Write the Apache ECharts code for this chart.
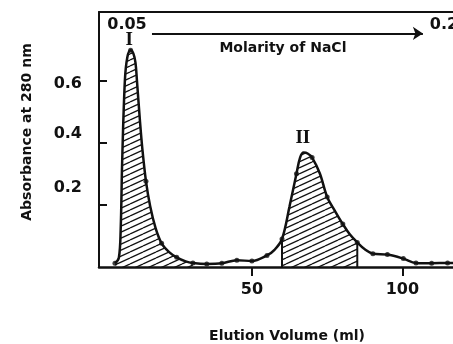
<!DOCTYPE html>
<html><head><meta charset="utf-8">
<script src="https://cdn.jsdelivr.net/npm/echarts@6/dist/echarts.min.js"></script>
<style>html,body{margin:0;padding:0;background:#fff}#c{width:453px;height:344px}</style>
</head><body><div id="c"></div>
<script>
// ---- data ----
const curveVolume = [4.5,5.8,6.4,6.9,7.8,8.6,9.7,10.6,11.3,11.8,12.8,13.6,14.8,16.2,18,20,22.5,25,28,30.4,35,40,45,50,55,57.5,60,62.5,64.8,66,67.2,68.5,70,72.6,75,77.6,80.2,82.5,85,87.5,90.2,95,100.3,104.5,109.7,115,117];
const curveAbsorbance = [0.012,0.03,0.12,0.34,0.60,0.674,0.697,0.687,0.658,0.60,0.47,0.38,0.276,0.195,0.125,0.076,0.048,0.031,0.018,0.013,0.01,0.012,0.022,0.019,0.037,0.055,0.09,0.195,0.30,0.352,0.368,0.365,0.352,0.30,0.225,0.18,0.138,0.105,0.079,0.057,0.043,0.04,0.027,0.013,0.012,0.013,0.013];
const dotVolume = [4.5,9.7,14.8,20,25,30.4,35,40,45,50,55,60,64.8,70,75,80.2,85,90.2,95,100.3,104.5,109.7,115];
const dotAbsorbance = [0.012,0.697,0.276,0.076,0.031,0.013,0.01,0.012,0.022,0.019,0.037,0.09,0.30,0.352,0.225,0.138,0.079,0.043,0.04,0.027,0.013,0.012,0.013];
const peakIRange = [4.5, 30.4];
const peakIIRange = [60, 85];
const xTickValues = [50, 100];
const yTickValues = [0.2, 0.4, 0.6];
const molarityStart = '0.05';
const molarityEnd = '0.2';
const molarityLabel = 'Molarity of NaCl';
const peakLabels = ['I', 'II'];
const xTitle = 'Elution Volume (ml)';
const yTitle = 'Absorbance at 280 nm';

// ---- layout / styling ----
const INK = '#111';
const FONT = '"DejaVu Sans", sans-serif';
const yLabelShift = {0.6: 3, 0.4: -9, 0.2: -17};

const curve = curveVolume.map((v, i) => [v, curveAbsorbance[i]]);
const dots = dotVolume.map((v, i) => [v, dotAbsorbance[i]]);
const inRange = r => curve.filter(p => p[0] >= r[0] && p[0] <= r[1]);
const valAt = x => curve.find(p => p[0] === x)[1];

function hatch() {
  const W = 13, H = 6, c = document.createElement('canvas');
  c.width = W; c.height = H;
  const g = c.getContext('2d');
  g.strokeStyle = INK; g.lineWidth = 1.3;
  for (const o of [-H, 0, H]) { g.beginPath(); g.moveTo(0, H + o); g.lineTo(W, o); g.stroke(); }
  return c;
}
const pattern = { image: hatch(), repeat: 'repeat' };

const rich = {};
yTickValues.forEach((v, i) => {
  const d = yLabelShift[v] || 0;
  rich['t' + i] = {
    fontFamily: FONT, fontWeight: 'bold', fontSize: 16, color: INK,
    padding: d > 0 ? [2 * d, 0, 0, 0] : [0, 0, -2 * d, 0]
  };
});

const chart = echarts.init(document.getElementById('c'), null, {renderer: 'canvas'});
const hatchSeries = r => ({
  type: 'line', data: inRange(r), smooth: 0.35, symbol: 'none', z: 1,
  lineStyle: {width: 0}, areaStyle: {color: pattern, opacity: 1}, silent: true
});
const edgeSeries = x => ({
  type: 'line', data: [[x, 0], [x, valAt(x)]], symbol: 'none', z: 2,
  lineStyle: {color: INK, width: 2}, silent: true
});

chart.setOption({
  animation: false,
  backgroundColor: '#fff',
  grid: {left: 99, right: 0, top: 12, bottom: 77},
  xAxis: [{
    type: 'value', min: -0.8, max: 116.8, position: 'bottom',
    axisLine: {show: true, onZero: false, lineStyle: {color: INK, width: 2.5}},
    axisTick: {show: true, customValues: xTickValues, length: 9, lineStyle: {color: INK, width: 2}},
    axisLabel: {customValues: xTickValues, margin: 15, fontFamily: FONT, fontWeight: 'bold', fontSize: 16, color: INK},
    splitLine: {show: false}
  }, {
    type: 'value', min: -0.8, max: 116.8, position: 'top',
    axisLine: {show: true, onZero: false, lineStyle: {color: INK, width: 2}},
    axisTick: {show: false}, axisLabel: {show: false}, splitLine: {show: false}
  }],
  yAxis: {
    type: 'value', min: 0, max: 0.82,
    axisLine: {show: true, onZero: false, lineStyle: {color: INK, width: 2}},
    axisTick: {show: true, inside: true, customValues: yTickValues, length: 8, lineStyle: {color: INK, width: 2}},
    axisLabel: {
      customValues: yTickValues, margin: 17,
      formatter: v => { const i = yTickValues.indexOf(+v.toFixed(2)); return '{t' + i + '|' + v.toFixed(1) + '}'; },
      rich: rich
    },
    splitLine: {show: false}
  },
  series: [
    hatchSeries(peakIRange),
    hatchSeries(peakIIRange),
    edgeSeries(peakIIRange[0]),
    edgeSeries(peakIIRange[1]),
    {
      type: 'line', data: curve, smooth: 0.35, symbol: 'none', z: 3,
      lineStyle: {color: INK, width: 2.5},
      markLine: {
        silent: true, symbol: ['none', 'arrow'], symbolSize: 10,
        label: {show: false}, lineStyle: {color: INK, width: 2, type: 'solid'},
        data: [[{coord: [16.8, 0.751]}, {coord: [106.8, 0.751]}]]
      }
    },
    {type: 'scatter', data: dots, symbolSize: 5, itemStyle: {color: INK}, z: 4}
  ]
});

const px = p => chart.convertToPixel({xAxisIndex: 0, yAxisIndex: 0}, p);
const txt = (pt, text, opts) => Object.assign({
  type: 'text', x: pt[0], y: pt[1], silent: true,
  style: Object.assign({text: text, fill: INK, font: 'bold 16px ' + FONT, align: 'center', verticalAlign: 'middle'}, opts || {})
});
const g = [
  txt(px([8.5, 0.78]), molarityStart),
  txt(px([109.1, 0.78]), molarityEnd, {align: 'left'}),
  txt(px([60.3, 0.703]), molarityLabel, {font: 'bold 14px ' + FONT}),
  txt(px([9.2, 0.729]), peakLabels[0], {font: 'bold 19px "Liberation Serif", serif'}),
  txt(px([66.9, 0.414]), peakLabels[1], {font: 'bold 19px "Liberation Serif", serif'}),
  txt([287, 336], xTitle, {font: 'bold 14px ' + FONT}),
  Object.assign(txt([27, 132], yTitle, {font: 'bold 14px ' + FONT}), {rotation: Math.PI / 2})
];
chart.setOption({graphic: g});
</script>
</body></html>
